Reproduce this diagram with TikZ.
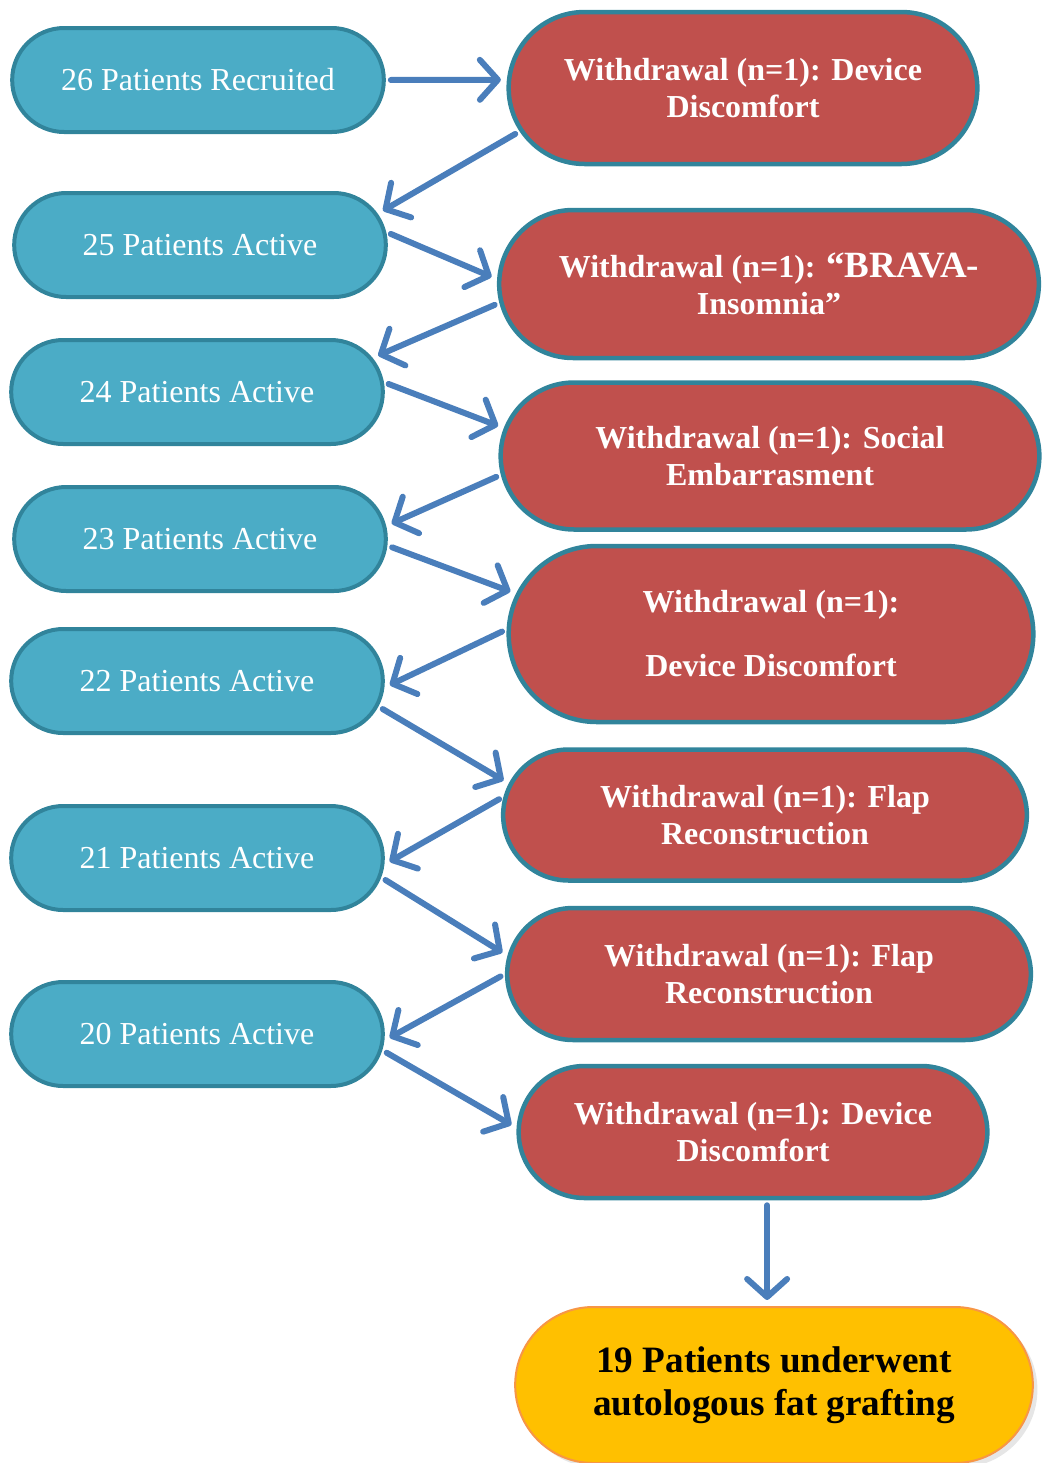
\documentclass[tikz,border=0pt]{standalone}
\usepackage{fontspec}
\setmainfont{Liberation Serif}
\usetikzlibrary{shapes.misc,arrows.meta,shadows}

\newlength{\du}
\setlength{\du}{0.5pt}

\definecolor{activefill}{HTML}{4BACC6}
\definecolor{activeline}{HTML}{31849B}
\definecolor{dropfill}{HTML}{C0504D}
\definecolor{finalfill}{HTML}{FFC000}
\definecolor{finalline}{HTML}{F79646}
\definecolor{flowline}{HTML}{4A7EBB}

\tikzset{
  active/.style={rounded rectangle, draw=activeline, fill=activefill,
    line width=4\du, minimum width=385\du, minimum height=104\du,
    text=white, font=\fontsize{16}{18.5}\selectfont},
  dropout/.style={rounded rectangle, draw=activeline, fill=dropfill,
    line width=4.5\du, text=white, align=center,
    font=\fontsize{16}{18.5}\selectfont\bfseries},
  final/.style={rounded rectangle, draw=finalline, fill=finalfill,
    line width=2\du, align=center, drop shadow={opacity=0.2},
    font=\fontsize{18.6}{21.5}\selectfont\bfseries},
  flow/.style={draw=flowline, line width=6\du, line cap=round,
    -{Straight Barb[length=9pt, width=20pt, line cap=round, line join=round]},
    shorten <=5\du, shorten >=6\du}
}

\begin{document}
\begin{tikzpicture}[x=\du, y=-\du]
\useasboundingbox (0,0) rectangle (1042,1463);

% patients still in the study
\node[active] (b1) at (198,80) {26 Patients Recruited};
\node[active] (b2) at (200,245) {25 Patients Active};
\node[active] (b3) at (197,392) {24 Patients Active};
\node[active] (b4) at (200,539) {23 Patients Active};
\node[active] (b5) at (197,681) {22 Patients Active};
\node[active] (b6) at (197,858) {21 Patients Active};
\node[active] (b7) at (197,1034) {20 Patients Active};

% withdrawals
\node[dropout, minimum width=482\du, minimum height=152\du] (r1) at (743,88)
  {Withdrawal (n=1): Device\\Discomfort};
\node[dropout, minimum width=553\du, minimum height=148\du] (r2) at (769,284)
  {Withdrawal (n=1): {\fontsize{18.5}{18.5}\selectfont\textquotedblleft BRAVA-}\\Insomnia\textquotedblright};
\node[dropout, minimum width=552\du, minimum height=147\du] (r3) at (770,456)
  {Withdrawal (n=1): Social\\Embarrasment};
\node[dropout, minimum width=538\du, minimum height=176\du] (r4) at (771,634)
  {Withdrawal (n=1):\\[27\du]Device Discomfort};
\node[dropout, minimum width=537\du, minimum height=131\du] (r5) at (765,815)
  {Withdrawal (n=1): Flap\\Reconstruction};
\node[dropout, minimum width=537\du, minimum height=132\du] (r6) at (769,974)
  {Withdrawal (n=1): Flap\\Reconstruction};
\node[dropout, minimum width=482\du, minimum height=132\du] (r7) at (753,1132)
  {Withdrawal (n=1): Device\\Discomfort};

\node[final, minimum width=531\du, minimum height=156\du] (y1) at (774,1385)
  {19 Patients underwent\\autologous fat grafting};

% arrows
\draw[flow] (b1.0) -- (r1.178);
\draw[flow] (r1.191) -- (b2.10);
\draw[flow] (b2.4) -- (r2.179);
\draw[flow] (r2.184) -- (b3.11);
\draw[flow] (b3.3) -- (r3.174);
\draw[flow] (r3.184) -- (b4.4);
\draw[flow] (b4.-2) -- (r4.171);
\draw[flow] (r4.179) -- (b5.-2);
\draw[flow] (b5.-8) -- (r5.173);
\draw[flow] (r5.176) -- (b6.-2);
\draw[flow] (b6.-6) -- (r6.176);
\draw[flow] (r6.180) -- (b7.-2);
\draw[flow] (b7.-5) -- (r7.179);
\draw[flow] (y1.95 |- r7.south) -- (y1.95);
\end{tikzpicture}
\end{document}
